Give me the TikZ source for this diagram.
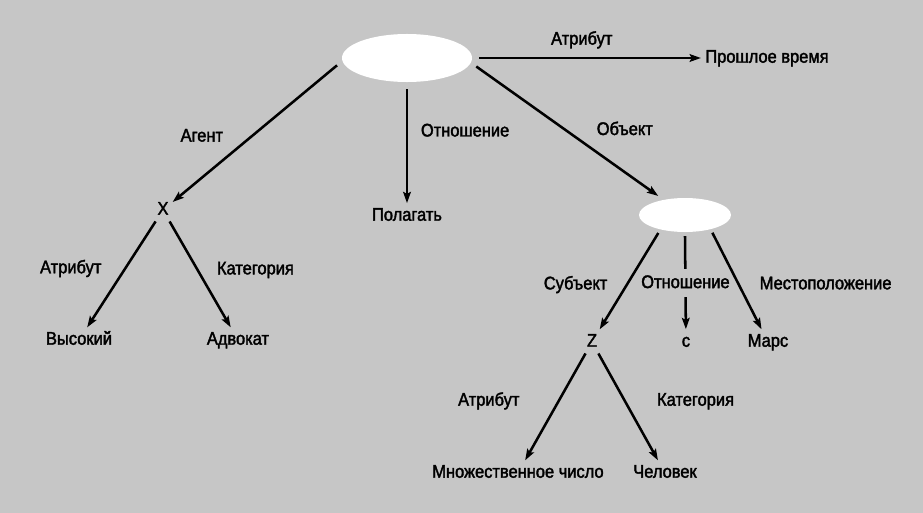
\documentclass[tikz,border=0pt]{standalone}
\usepackage{fontspec}
\setmainfont{Liberation Sans}[FakeStretch=0.9, FakeBold=2]
\usetikzlibrary{arrows.meta,positioning,shapes.geometric}
\definecolor{scan}{RGB}{198,198,198}
\begin{document}
\begin{tikzpicture}[
  x=0.025cm, y=-0.025cm,
  font=\fontsize{13}{15}\selectfont,
  >={Stealth[length=8pt, width=5.5pt, inset=1.5pt]},
  frame/.style={ellipse, fill=white, inner sep=0pt},
  term/.style ={inner sep=2pt, text height=9.3pt, text depth=2.6pt},
  lbl/.style  ={inner sep=1pt, text height=9.3pt, text depth=2.6pt},
  rel/.style  ={->, line width=1.8pt, shorten >=1pt},
]

\fill[scan] (0,0) rectangle (923,513);

%% ---------------- frames ----------------
\node[frame, minimum width=3.25cm, minimum height=1.2cm, outer sep=5pt] (ev) at (407,58) {};
\node[frame, minimum width=2.3cm, minimum height=0.85cm, outer sep=3pt] (zev) at (685,215) {};

%% ---------------- terms ----------------
\node[term] (past) at (767,58)  {Прошлое время};
\node[term] (x)    at (163,210) {X};
\node[term] (pol)  at (407,216) {Полагать};
\node[term] (vys)  at (79,340)  {Высокий};
\node[term] (adv)  at (238,340) {Адвокат};
\node[term] (z)    at (592,342) {Z};
\node[term] (c)    at (686,342) {с};
\node[term] (mars) at (768,342) {Марс};
\node[term] (mn)   at (518,473) {Множественное число};
\node[term] (chel) at (665,473) {Человек};

%% ---------------- relations ----------------
\draw[rel] (ev.east) -- node[lbl, pos=.46, above=5pt] {Атрибут} (past);
\draw[rel] (ev.186) -- node[lbl, pos=.52, left=18pt] {Агент} (x);
\draw[rel] (ev.south) -- node[lbl, pos=.37, right=8pt] {Отношение} (pol);
\draw[rel] (ev.353) -- node[lbl, pos=.49, right=20pt] {Объект} (zev);

\draw[rel] (x) -- node[lbl, pos=.44, left=15pt] {Атрибут} (vys);
\draw[rel] (x) -- node[lbl, pos=.45, right=12pt] {Категория} (adv);

\draw[rel] (zev.214) -- node[lbl, pos=.53, left=12pt] {Субъект} (z);
\draw[rel] (zev.south) -- node[lbl, pos=.5, fill=scan, inner ysep=4pt] {Отношение} (c);
\draw[rel] (zev.327) -- node[lbl, pos=.53, right=13pt] {Местоположение} (mars);

\draw[rel] (z) -- node[lbl, pos=.44, left=26pt] {Атрибут} (mn);
\draw[rel] (z) -- node[lbl, pos=.44, right=21pt] {Категория} (chel);

\end{tikzpicture}
\end{document}
